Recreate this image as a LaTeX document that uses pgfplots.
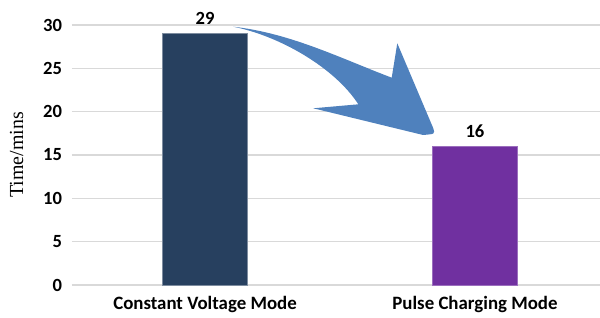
\documentclass[border=0pt]{standalone}
\usepackage{pgfplots}
\pgfplotsset{compat=1.18}
\usepackage{fontspec}
\setmainfont{Carlito}
\newfontfamily\serifl{Liberation Serif}
\definecolor{barA}{HTML}{27405F}
\definecolor{barB}{HTML}{7030A0}
\definecolor{arrowblue}{HTML}{4F81BD}
\definecolor{gridc}{HTML}{D9D9D9}
\begin{document}
\begin{tikzpicture}
\begin{axis}[
  scale only axis,
  width=396bp, height=195bp,
  xmin=-0.4926, xmax=1.463,
  ymin=0, ymax=30,
  ytick={0,5,...,30},
  xtick={0,1},
  xticklabels={Constant Voltage Mode, Pulse Charging Mode},
  axis line style={draw=none},
  major tick length=0pt,
  ymajorgrids,
  grid style={gridc, line width=1pt},
  ybar, bar width=0.315, bar shift=0pt,
  clip=false,
  /pgf/number format/assume math mode=true,
  yticklabel style={font=\fontsize{14}{16}\selectfont\bfseries, xshift=-4bp},
  xticklabel style={font=\fontsize{14.2}{16}\selectfont\bfseries, yshift=-5bp},
  ylabel={\serifl Time/mins},
  ylabel style={font=\fontsize{15}{17}\selectfont, yshift=8bp},
  nodes near coords,
  nodes near coords style={font=\fontsize{14}{16}\selectfont\bfseries, black, yshift=3bp},
]
\addplot[fill=barA, draw=barA!60!white] coordinates {(0,29)};
\addplot[fill=barB, draw=barB!70!white] coordinates {(1,16)};
\fill[arrowblue] (axis cs:0.1048,29.80) .. controls (axis cs:0.3148,29.08) and (axis cs:0.5,26.19) .. (axis cs:0.6915,23.92)
  -- (axis cs:0.7122,27.89) -- (axis cs:0.8456,18.08) .. controls (axis cs:0.852,17.42) .. (axis cs:0.8074,17.31)
  -- (axis cs:0.4011,20.39) -- (axis cs:0.5678,20.85)
  .. controls (axis cs:0.4815,25.04) and (axis cs:0.2778,28.73) .. cycle;
\end{axis}
\pgfresetboundingbox
\path (-54bp,-24.75bp) rectangle (396bp,213.75bp);
\end{tikzpicture}
\end{document}
